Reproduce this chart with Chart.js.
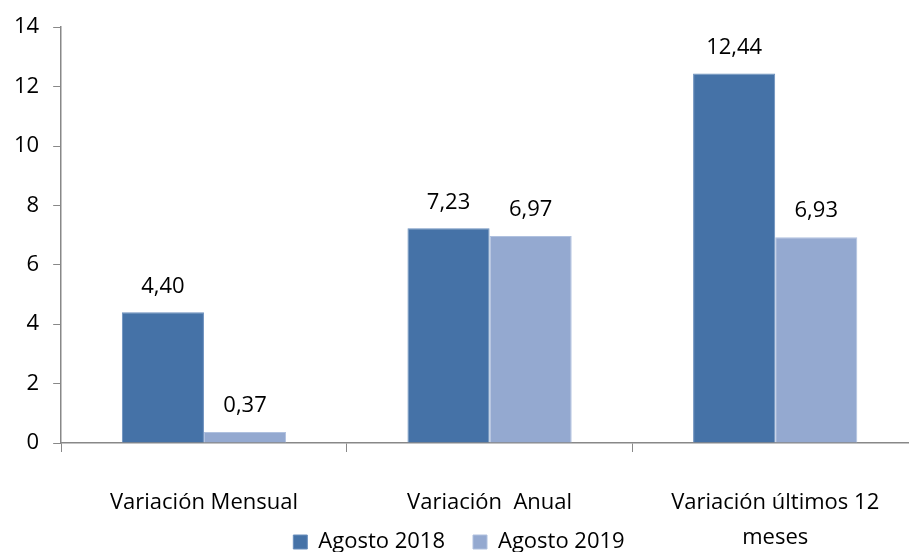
<!DOCTYPE html>
<html lang="es">
<head>
<meta charset="UTF-8">
<title>Variación</title>
<script src="https://cdn.jsdelivr.net/npm/chart.js"></script>
<style>
    html, body { margin: 0; padding: 0; background: #fff; overflow: hidden; }
    #wrap { width: 909px; height: 552px; overflow: hidden; }
</style>
</head>
<body>
<div id="wrap">
    <canvas id="grafico" width="930" height="552"></canvas>
</div>
<script>
    // datos
    const categorias = ['Variación Mensual', 'Variación  Anual', ['Variación últimos 12', 'meses']];
    const agosto2018 = [4.40, 7.23, 12.44];
    const agosto2019 = [0.37, 6.97, 6.93];
    const ticksY = [0, 2, 4, 6, 8, 10, 12, 14];

    const fuente = '"Open Sans", sans-serif';
    const gris = '#888888';
    const legendPad = 28;

    // etiquetas encima de las barras
    const etiquetas = {
        id: 'etiquetas',
        afterDatasetsDraw(chart) {
            const ctx = chart.ctx;
            ctx.save();
            ctx.font = '22px ' + fuente;
            ctx.fillStyle = '#000';
            ctx.textAlign = 'center';
            ctx.textBaseline = 'middle';
            chart.data.datasets.forEach(function (ds, i) {
                chart.getDatasetMeta(i).data.forEach(function (bar, j) {
                    ctx.fillText(ds.data[j].toFixed(2).replace('.', ','), bar.x, bar.y - 26);
                });
            });
            ctx.restore();
        }
    };

    // la leyenda se superpone a las etiquetas del eje x (como en el original)
    const leyendaAbajo = {
        id: 'leyendaAbajo',
        beforeInit(chart) {
            const fit = chart.legend.fit;
            chart.legend.fit = function () {
                fit.call(this);
                this.height = 0;
            };
        },
        beforeDraw(chart) {
            chart.legend.top = 542 - legendPad - 11;
        }
    };

    new Chart(document.getElementById('grafico'), {
        type: 'bar',
        data: {
            labels: categorias,
            datasets: [{
                label: 'Agosto 2018',
                data: agosto2018,
                backgroundColor: '#4572a7',
                borderColor: '#6a8fbd',
                borderWidth: 1
            }, {
                label: 'Agosto 2019',
                data: agosto2019,
                backgroundColor: '#94a9d0',
                borderColor: '#b0c1df',
                borderWidth: 1
            }]
        },
        options: {
            responsive: false,
            animation: false,
            categoryPercentage: 0.575,
            barPercentage: 1,
            layout: { padding: { top: 18, right: 12, left: 0, bottom: 0 } },
            plugins: {
                tooltip: { enabled: false },
                legend: {
                    position: 'bottom',
                    labels: {
                        color: '#000',
                        font: { family: fuente, size: 22 },
                        boxWidth: 14,
                        boxHeight: 14,
                        padding: legendPad
                    }
                }
            },
            scales: {
                x: {
                    grid: {
                        offset: true,
                        drawOnChartArea: false,
                        drawTicks: true,
                        tickLength: 9,
                        color: gris
                    },
                    border: { color: gris, width: 1.5 },
                    ticks: {
                        color: '#000',
                        font: { family: fuente, size: 22, lineHeight: 1.6 },
                        padding: 33,
                        autoSkip: false,
                        maxRotation: 0
                    },
                    afterFit(scale) { scale.height = 109; }
                },
                y: {
                    min: 0,
                    max: 14,
                    afterBuildTicks(scale) { scale.ticks = ticksY.map(v => ({ value: v })); },
                    grid: {
                        drawOnChartArea: false,
                        drawTicks: true,
                        tickLength: 8,
                        color: gris
                    },
                    border: { color: gris, width: 1.5 },
                    ticks: {
                        color: '#000',
                        font: { family: fuente, size: 22 },
                        padding: 14
                    }
                }
            }
        },
        plugins: [etiquetas, leyendaAbajo]
    });
</script>
</body>
</html>
